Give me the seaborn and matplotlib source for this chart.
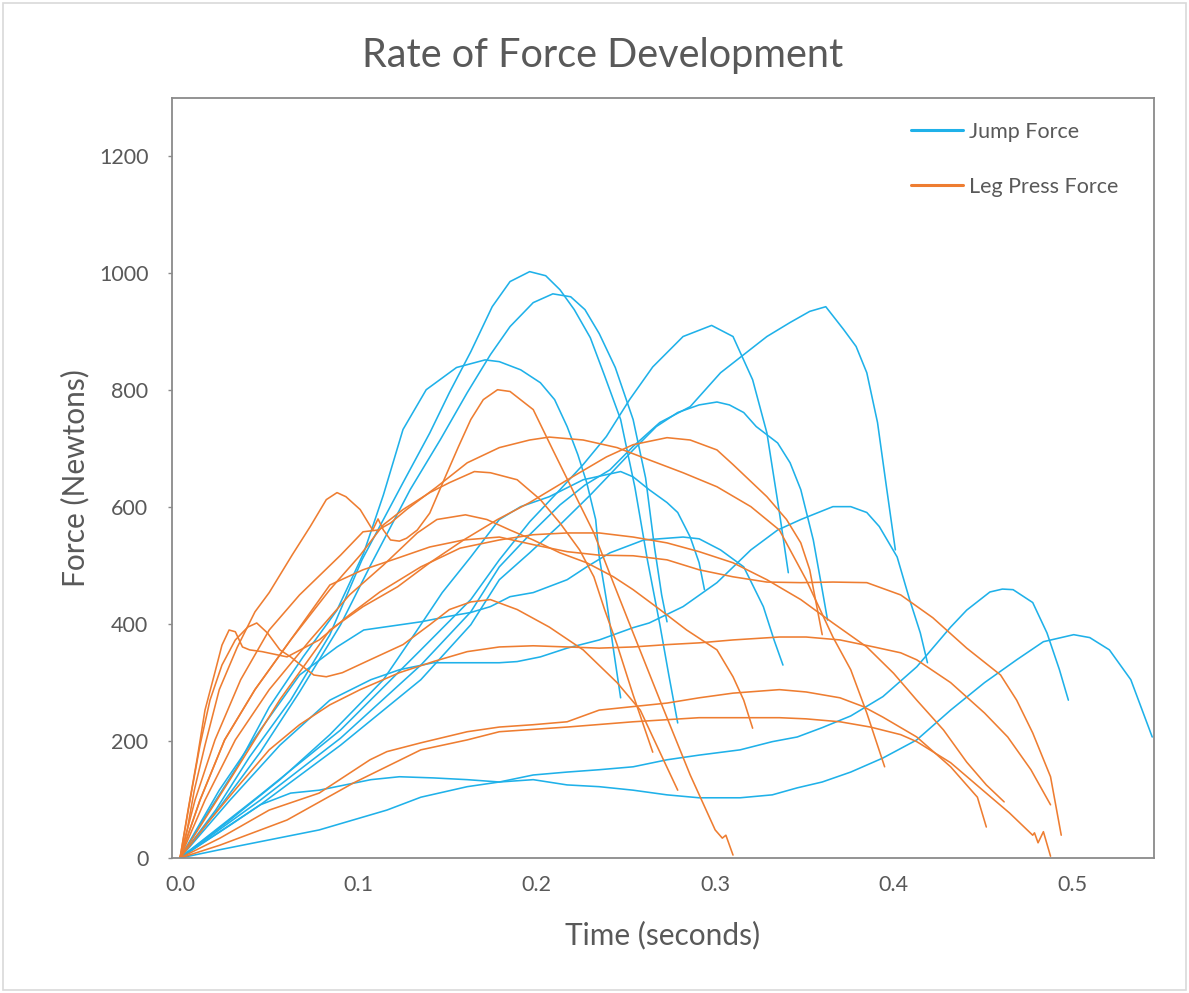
import matplotlib
matplotlib.use("Agg")
import matplotlib.pyplot as plt
import seaborn as sns
import pandas as pd
from matplotlib.lines import Line2D
from matplotlib.patches import Rectangle

# ---------------- data (time in s, force in N) ----------------
j1_t = [0, .020, .039, .062, .084, .102, .125, .140, .151, .163, .175, .185, .196, .205, .213, .221, .230, .238, .247, .255, .262, .269, .274, .279]
j1_f = [0, 82, 173, 270, 382, 510, 642, 727, 796, 866, 943, 986, 1003, 996, 972, 938, 890, 825, 750, 634, 510, 399, 313, 231]
j2_t = [0, .022, .045, .067, .090, .107, .129, .146, .161, .174, .185, .198, .209, .219, .227, .235, .244, .254, .261, .266, .270, .273]
j2_f = [0, 86, 181, 284, 399, 502, 630, 716, 796, 861, 909, 950, 965, 960, 938, 897, 839, 750, 650, 531, 450, 404]
j3_t = [0, .013, .032, .050, .069, .088, .103, .114, .125, .138, .155, .171, .179, .191, .202, .210, .217, .223, .228, .233, .235, .239, .243, .247]
j3_f = [0, 65, 156, 258, 344, 424, 522, 621, 733, 801, 839, 852, 849, 835, 813, 784, 738, 690, 642, 579, 515, 442, 356, 274]
j4_t = [0, .045, .090, .135, .163, .179, .196, .213, .226, .239, .252, .265, .282, .298, .310, .321, .329, .336, .341]
j4_f = [0, 108, 219, 356, 442, 510, 575, 630, 673, 721, 784, 840, 892, 911, 892, 818, 727, 591, 488]
j5_t = [0, .045, .090, .135, .163, .179, .196, .213, .227, .241, .254, .269, .286, .303, .316, .329, .342, .353, .362, .372, .379, .385, .391, .396, .401]
j5_f = [0, 99, 205, 330, 421, 498, 553, 604, 638, 664, 704, 745, 772, 830, 861, 892, 916, 935, 943, 904, 875, 830, 745, 635, 527]
j6_t = [0, .045, .090, .135, .163, .179, .196, .213, .230, .241, .254, .267, .279, .291, .301, .308, .316, .323, .335, .342, .348, .355, .360, .363]
j6_f = [0, 91, 193, 305, 399, 476, 522, 570, 621, 656, 698, 738, 762, 775, 780, 775, 762, 738, 710, 676, 630, 544, 459, 407]
j7_t = [0, .028, .056, .084, .114, .133, .147, .163, .179, .191, .207, .226, .247, .254, .263, .273, .279, .286, .291, .294]
j7_f = [0, 65, 134, 211, 305, 390, 454, 515, 579, 601, 618, 647, 661, 652, 630, 608, 591, 549, 505, 459]
j8_t = [0, .028, .056, .084, .107, .123, .142, .161, .179, .189, .202, .217, .235, .254, .263, .282, .301, .320, .335, .348, .366, .376, .385, .392, .402, .409, .415, .419]
j8_f = [0, 99, 193, 270, 305, 322, 334, 334, 334, 336, 344, 359, 373, 394, 402, 430, 471, 527, 561, 579, 601, 601, 591, 567, 515, 442, 385, 334]
j9_t = [0, .022, .045, .067, .088, .103, .135, .150, .163, .174, .185, .198, .217, .228, .241, .260, .282, .291, .303, .316, .327, .333, .338]
j9_f = [0, 116, 219, 313, 361, 390, 404, 413, 420, 430, 447, 454, 476, 498, 522, 544, 549, 546, 527, 498, 430, 373, 330]
j10_t = [0, .011, .028, .045, .062, .078, .107, .123, .142, .161, .179, .198, .217, .235, .254, .273, .291, .314, .332, .346, .360, .376, .394, .413, .432, .451, .469, .484, .501, .510, .521, .533, .545]
j10_f = [0, 22, 56, 91, 111, 116, 134, 139, 137, 134, 130, 134, 125, 122, 116, 108, 103, 103, 108, 120, 130, 147, 171, 202, 253, 300, 339, 370, 382, 377, 356, 305, 207]
j11_t = [0, .022, .050, .078, .097, .116, .135, .161, .179, .198, .217, .235, .254, .273, .291, .314, .332, .346, .360, .376, .394, .413, .432, .441, .454, .461, .467, .478, .486, .493, .498]
j11_f = [0, 14, 31, 48, 65, 82, 104, 122, 130, 142, 147, 151, 156, 168, 176, 185, 199, 207, 223, 243, 276, 327, 395, 424, 455, 460, 459, 437, 385, 322, 270]

p1_t = [0, .004, .008, .014, .022, .032, .042, .050, .063, .073, .082, .088, .093, .101, .108, .111, .114, .118, .123, .127, .133, .140, .148, .156, .163, .170, .178, .185, .198, .209, .220, .232, .243, .254, .269, .286, .300, .304, .306, .310]
p1_f = [0, 48, 116, 193, 288, 360, 421, 454, 519, 567, 613, 625, 618, 596, 561, 580, 561, 544, 542, 547, 561, 590, 647, 703, 750, 784, 801, 798, 767, 698, 630, 556, 470, 385, 270, 142, 48, 34, 39, 5]
p2_t = [0, .0045, .0095, .014, .0196, .0235, .0275, .031, .035, .039, .046, .060, .078, .095, .112, .135, .157, .179, .198, .217, .235, .254, .273, .291, .310, .329, .348, .366, .385, .400, .413, .428, .441, .452, .462]
p2_f = [0, 82, 168, 253, 318, 364, 390, 387, 361, 356, 353, 344, 373, 416, 455, 498, 530, 544, 553, 556, 556, 549, 539, 524, 505, 476, 442, 402, 361, 316, 270, 219, 164, 125, 96]
p3_t = [0, .0056, .0112, .0168, .0235, .031, .038, .043, .049, .056, .062, .069, .075, .082, .091, .1065, .125, .140, .151, .163, .174, .189, .207, .226, .245, .258, .271, .279]
p3_f = [0, 99, 193, 270, 330, 373, 395, 402, 385, 356, 344, 327, 313, 310, 317, 339, 365, 399, 425, 438, 442, 425, 395, 356, 300, 253, 168, 116]
p4_t = [0, .0084, .0196, .034, .050, .067, .090, .1026, .111, .118, .127, .144, .161, .179, .196, .207, .226, .245, .263, .282, .301, .320, .336, .351, .366, .376, .385, .395]
p4_f = [0, 99, 202, 305, 390, 450, 518, 558, 561, 573, 596, 635, 676, 702, 715, 720, 715, 702, 681, 659, 635, 601, 561, 476, 378, 322, 248, 156]
p5_t = [0, .028, .056, .084, .1026, .122, .140, .159, .178, .196, .220, .239, .254, .273, .286, .301, .310, .329, .340, .348, .353, .360]
p5_f = [0, 134, 271, 390, 430, 464, 505, 544, 579, 608, 652, 686, 707, 719, 715, 698, 673, 618, 579, 539, 493, 382]
p6_t = [0, .0112, .025, .042, .062, .084, .101, .114, .125, .140, .151, .165, .174, .189, .202, .213, .224, .232, .238, .245, .254, .265]
p6_f = [0, 99, 202, 288, 373, 459, 518, 570, 596, 625, 642, 661, 659, 647, 613, 573, 527, 481, 425, 365, 279, 181]
p7_t = [0, .014, .031, .050, .073, .095, .114, .123, .133, .144, .160, .172, .185, .198, .213, .228, .243, .254, .269, .284, .301, .310, .316, .321]
p7_f = [0, 99, 202, 288, 373, 450, 501, 527, 556, 579, 587, 579, 561, 544, 522, 505, 481, 459, 425, 390, 356, 310, 270, 222]
p8_t = [0, .0112, .025, .042, .062, .084, .1026, .122, .140, .159, .179, .198, .217, .235, .254, .273, .291, .310, .329, .348, .366, .385, .404, .422, .441, .460, .469, .478, .488, .494]
p8_f = [0, 99, 202, 288, 373, 467, 493, 513, 532, 544, 549, 536, 524, 518, 517, 510, 493, 481, 472, 471, 472, 471, 450, 411, 359, 313, 270, 214, 139, 39]
p9_t = [0, .0168, .034, .050, .067, .084, .101, .123, .142, .161, .179, .198, .217, .235, .254, .273, .291, .310, .336, .351, .370, .389, .404, .413, .432, .451, .464, .477, .488]
p9_f = [0, 65, 128, 185, 228, 262, 288, 317, 336, 353, 361, 363, 361, 359, 361, 365, 368, 373, 378, 378, 373, 361, 351, 339, 300, 248, 207, 151, 91]
p10_t = [0, .0224, .050, .078, .1065, .116, .135, .161, .179, .198, .217, .235, .254, .273, .291, .310, .336, .351, .370, .383, .394, .413, .432, .447, .452]
p10_f = [0, 34, 82, 111, 168, 182, 197, 216, 224, 228, 233, 253, 259, 265, 274, 282, 288, 284, 274, 259, 241, 207, 156, 104, 53]
p11_t = [0, .0224, .060, .097, .135, .161, .179, .217, .254, .291, .314, .336, .351, .370, .387, .404, .413, .432, .450, .465, .478, .479, .481, .484, .488]
p11_f = [0, 22, 65, 128, 185, 202, 216, 224, 233, 240, 240, 240, 238, 233, 224, 211, 199, 163, 116, 77, 39, 43, 26, 45, 3]

series_names = ["Jump Force", "Leg Press Force"]
jump_trials = [(j1_t, j1_f), (j2_t, j2_f), (j3_t, j3_f), (j4_t, j4_f), (j5_t, j5_f), (j6_t, j6_f),
               (j7_t, j7_f), (j8_t, j8_f), (j9_t, j9_f), (j10_t, j10_f), (j11_t, j11_f)]
press_trials = [(p1_t, p1_f), (p2_t, p2_f), (p3_t, p3_f), (p4_t, p4_f), (p5_t, p5_f), (p6_t, p6_f),
                (p7_t, p7_f), (p8_t, p8_f), (p9_t, p9_f), (p10_t, p10_f), (p11_t, p11_f)]
x_ticks = [0.0, 0.1, 0.2, 0.3, 0.4, 0.5]
x_tick_labels = ["0.0", "0.1", "0.2", "0.3", "0.4", "0.5"]
y_ticks = [0, 200, 400, 600, 800, 1000, 1200]

rows = []
for name, trials in ((series_names[0], jump_trials), (series_names[1], press_trials)):
    for k, (tt, ff) in enumerate(trials):
        for i, (a, b) in enumerate(zip(tt, ff)):
            rows.append({"t": a, "F": b, "kind": name, "trial": f"{name}-{k}", "order": i})
df = pd.DataFrame(rows)

# ---------------- style ----------------
sns.set_theme(style="white")
plt.rcParams["font.family"] = ["Lato", "DejaVu Sans"]
TXT = "#595959"
BLUE = "#1FB1E9"
ORANGE = "#EE7D31"
palette = {series_names[0]: BLUE, series_names[1]: ORANGE}

W, H = 1189, 993
fig = plt.figure(figsize=(W / 100, H / 100), dpi=100)
fig.patch.set_facecolor("white")
L, R, T, B = 172, 1154, 98, 858
ax = fig.add_axes([L / W, (H - B) / H, (R - L) / W, (B - T) / H])

sns.lineplot(data=df, x="t", y="F", hue="kind", units="trial", estimator=None,
             sort=False, palette=palette, linewidth=1.15, ax=ax, legend=False)

ax.set_xlim(-0.0045, 0.546)
ax.set_ylim(0, 1300)
ax.set_xticks(x_ticks)
ax.set_xticklabels(x_tick_labels)
ax.set_yticks(y_ticks)
ax.tick_params(axis="x", length=0, pad=12, labelsize=15.5, labelcolor=TXT)
ax.tick_params(axis="y", length=3, width=1, color="#8a8a8a", pad=14, labelsize=15.5, labelcolor=TXT, direction="out", left=True)
for s in ax.spines.values():
    s.set_color("#8a8a8a")
    s.set_linewidth(1.3)
ax.grid(False)

ax.set_xlabel("Time (seconds)", fontsize=21.5, color=TXT)
ax.set_ylabel("Force (Newtons)", fontsize=21.5, color=TXT)
ax.xaxis.set_label_coords(0.5, -0.082)
ax.yaxis.set_label_coords(-0.084, 0.5)

fig.text(603 / W, 1 - 55 / H, "Rate of Force Development", fontsize=28.5, color=TXT,
         ha="center", va="center")

handles = [Line2D([], [], color=BLUE, lw=2.2), Line2D([], [], color=ORANGE, lw=2.2)]
ax.legend(handles, series_names, loc="upper left", bbox_to_anchor=(0.744, 0.98),
          frameon=False, fontsize=15.5, handlelength=2.42, handletextpad=0.25,
          labelspacing=1.62, labelcolor=TXT, borderaxespad=0)

fig.patches.append(Rectangle((3 / W, 3 / H), 1 - 6 / W, 1 - 6 / H, transform=fig.transFigure,
                             fill=False, edgecolor="#d9d9d9", linewidth=1.2))

fig.savefig("out.png", dpi=100, facecolor="white")
